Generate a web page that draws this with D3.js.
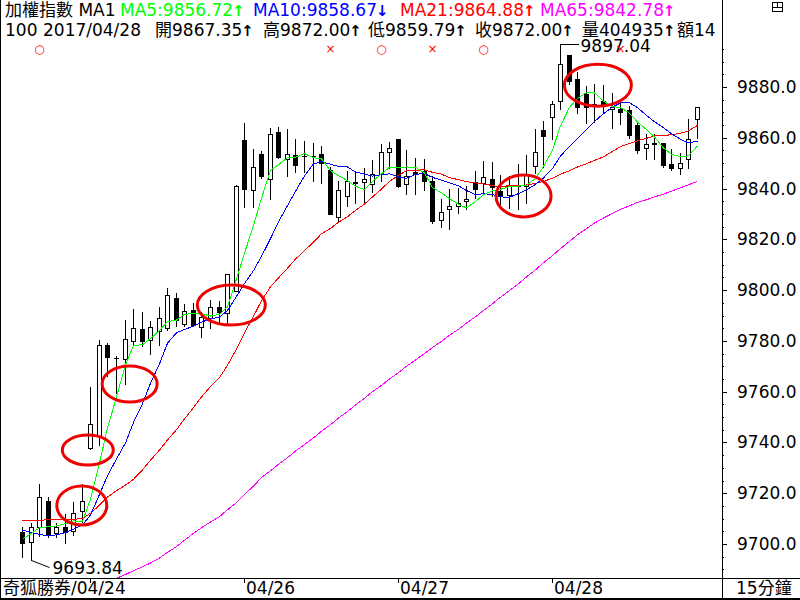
<!DOCTYPE html>
<html>
<head>
<meta charset="utf-8">
<script src="https://cdn.jsdelivr.net/npm/d3@7"></script>
<style>
  body { margin: 0; background: #fff; }
  svg { display: block; font-family: "DejaVu Sans", "Noto Sans CJK TC", sans-serif; }
</style>
</head>
<body>
<svg width="800" height="600"></svg>
<script>
// 15-minute bars, 04/24 (partial) .. 04/28
const opens = [9704.6, 9700.7, 9706.8, 9717.0, 9704.2, 9706.6, 9705.2, 9713.0, 9737.8, 9742.7,
  9778.5, 9773.0, 9772.9, 9780.1, 9784.7, 9780.5, 9783.7, 9785.1, 9796.9, 9786.8,
  9792.0, 9785.5, 9789.0, 9793.4, 9791.0, 9799.5, 9859.0, 9839.4, 9853.5, 9843.6,
  9862.4, 9851.8, 9853.1, 9852.8, 9852.8, 9853.5, 9847.5, 9828.7, 9837.0, 9842.7,
  9842.5, 9841.6, 9845.8, 9854.5, 9859.4, 9841.9, 9846.5, 9846.9, 9842.9, 9827.8,
  9832.0, 9833.3, 9835.0, 9842.5, 9842.2, 9843.6, 9839.0, 9837.4, 9841.2, 9841.2,
  9848.8, 9862.9, 9868.3, 9874.6, 9892.5, 9883.3, 9877.1, 9873.5, 9874.5, 9871.2,
  9871.2, 9870.9, 9864.9, 9856.1, 9858.1, 9857.8, 9849.5, 9848.2, 9851.8, 9867.35];
const highs = [9706.8, 9708.2, 9723.7, 9718.7, 9708.2, 9711.7, 9716.7, 9723.7, 9761.8, 9780.5,
  9779.2, 9773.9, 9788.4, 9792.6, 9791.2, 9788.0, 9793.4, 9800.9, 9798.9, 9794.7,
  9795.0, 9791.2, 9796.0, 9795.6, 9806.5, 9841.5, 9865.7, 9855.7, 9854.8, 9864.0,
  9864.4, 9863.3, 9859.5, 9858.7, 9858.1, 9856.7, 9848.3, 9842.9, 9847.1, 9846.9,
  9847.9, 9851.1, 9857.7, 9858.5, 9859.6, 9855.0, 9851.9, 9851.8, 9844.9, 9835.7,
  9840.0, 9840.3, 9841.0, 9846.9, 9850.8, 9850.4, 9845.2, 9844.9, 9849.5, 9853.1,
  9863.3, 9866.6, 9874.5, 9897.04, 9892.5, 9885.9, 9880.2, 9881.1, 9880.7, 9877.5,
  9875.4, 9872.5, 9866.0, 9861.6, 9861.3, 9857.8, 9855.4, 9854.1, 9867.3, 9872.00];
const lows = [9695.0, 9693.84, 9703.2, 9702.6, 9702.6, 9700.5, 9703.6, 9708.8, 9737.5, 9739.1,
  9766.0, 9759.4, 9763.1, 9777.8, 9778.1, 9775.0, 9778.5, 9784.4, 9785.7, 9785.7,
  9785.7, 9781.5, 9785.1, 9787.6, 9787.1, 9799.5, 9832.8, 9832.8, 9844.3, 9836.0,
  9852.1, 9844.9, 9846.5, 9846.5, 9842.9, 9842.3, 9829.8, 9827.2, 9833.1, 9834.4,
  9834.4, 9838.7, 9842.9, 9848.2, 9840.6, 9837.7, 9837.7, 9839.6, 9826.5, 9824.8,
  9823.9, 9830.5, 9832.0, 9836.4, 9837.7, 9837.0, 9833.1, 9832.2, 9831.8, 9834.4,
  9846.2, 9848.3, 9859.4, 9871.2, 9881.1, 9869.6, 9866.0, 9866.2, 9870.1, 9864.0,
  9865.3, 9860.0, 9854.1, 9851.8, 9851.8, 9848.4, 9847.5, 9845.8, 9848.2, 9859.79];
const closes = [9700.3, 9706.6, 9718.4, 9703.6, 9706.6, 9704.9, 9712.1, 9717.1, 9747.2, 9778.5,
  9773.6, 9773.4, 9780.7, 9785.1, 9780.1, 9785.5, 9789.0, 9798.2, 9788.1, 9791.6,
  9786.4, 9789.4, 9793.4, 9791.4, 9806.5, 9841.2, 9839.9, 9848.6, 9844.9, 9861.3,
  9852.5, 9853.5, 9849.1, 9852.8, 9852.8, 9850.2, 9830.0, 9839.6, 9842.9, 9842.0,
  9843.6, 9845.8, 9854.5, 9856.1, 9841.0, 9844.9, 9845.6, 9842.9, 9827.4, 9830.8,
  9833.3, 9834.4, 9836.0, 9839.9, 9844.6, 9840.7, 9837.3, 9841.3, 9841.2, 9845.8,
  9854.4, 9860.7, 9873.4, 9889.0, 9882.4, 9872.1, 9872.1, 9872.7, 9872.5, 9872.1,
  9870.3, 9860.9, 9855.1, 9857.7, 9857.4, 9849.1, 9848.2, 9850.2, 9859.4, 9872.00];

// moving averages
const ma5 = [9701.9, 9704.2, 9706.4, 9706.8, 9707.1, 9708.0, 9709.1, 9708.9, 9717.6, 9732.0,
  9745.7, 9757.9, 9770.6, 9778.2, 9778.5, 9780.9, 9784.1, 9787.6, 9788.2, 9790.5,
  9790.7, 9790.7, 9789.8, 9790.4, 9793.4, 9804.4, 9814.5, 9825.5, 9836.2, 9847.2,
  9849.4, 9852.2, 9852.3, 9853.8, 9852.1, 9851.7, 9847.0, 9845.1, 9843.1, 9840.9,
  9839.6, 9842.8, 9845.8, 9848.4, 9848.2, 9848.5, 9848.4, 9846.1, 9840.4, 9838.3,
  9836.0, 9833.8, 9832.4, 9834.9, 9837.6, 9839.1, 9839.7, 9840.8, 9841.0, 9841.3,
  9844.0, 9848.7, 9855.1, 9864.7, 9872.0, 9875.5, 9877.8, 9877.7, 9874.4, 9872.3,
  9871.9, 9869.7, 9866.2, 9863.2, 9860.3, 9856.0, 9853.5, 9852.5, 9852.9, 9856.72];
const ma10 = [9705.5, 9704.6, 9703.8, 9703.2, 9703.6, 9704.5, 9705.8, 9707.5, 9711.4, 9719.5,
  9726.9, 9733.5, 9739.8, 9747.9, 9755.3, 9763.3, 9771.0, 9779.1, 9783.2, 9784.5,
  9785.8, 9787.4, 9788.7, 9789.3, 9792.0, 9797.5, 9802.6, 9807.7, 9813.3, 9820.3,
  9826.9, 9833.3, 9838.9, 9845.0, 9849.7, 9850.6, 9849.6, 9848.7, 9848.5, 9846.5,
  9845.7, 9844.9, 9845.4, 9845.8, 9844.6, 9844.0, 9845.6, 9845.9, 9844.4, 9843.3,
  9842.2, 9841.1, 9839.2, 9837.6, 9838.0, 9837.6, 9836.7, 9836.6, 9838.0, 9839.5,
  9841.6, 9844.2, 9847.9, 9852.8, 9856.6, 9859.8, 9863.2, 9866.4, 9869.5, 9872.1,
  9873.7, 9873.8, 9871.9, 9868.8, 9866.3, 9864.0, 9861.6, 9859.4, 9858.0, 9858.67];
const ma21 = [9709.2, 9709.3, 9709.4, 9709.5, 9709.5, 9709.6, 9709.7, 9710.1, 9712.1, 9715.3,
  9718.5, 9721.0, 9723.2, 9725.5, 9729.2, 9733.0, 9737.0, 9741.0, 9745.0, 9749.3,
  9753.7, 9757.9, 9762.0, 9765.5, 9770.4, 9776.8, 9783.2, 9789.7, 9795.8, 9801.3,
  9804.8, 9808.6, 9812.2, 9815.6, 9818.9, 9822.2, 9824.3, 9826.7, 9828.9, 9831.4,
  9833.9, 9836.7, 9839.8, 9842.8, 9845.2, 9847.0, 9847.2, 9847.4, 9846.4, 9845.7,
  9844.3, 9843.5, 9842.7, 9842.2, 9841.8, 9841.2, 9840.6, 9841.2, 9841.2, 9841.4,
  9842.0, 9842.8, 9844.1, 9845.7, 9847.0, 9848.5, 9849.8, 9851.1, 9852.5, 9854.6,
  9856.5, 9857.8, 9858.8, 9859.8, 9860.7, 9860.9, 9861.2, 9861.8, 9862.7, 9864.88];
const ma65 = [null, null, null, null, null, null, null, null, null, null,
  9684.2, 9686.5, 9688.0, 9689.5, 9691.0, 9692.5, 9694.5, 9696.7, 9699.0, 9701.5,
  9704.2, 9706.4, 9708.7, 9710.8, 9713.5, 9716.3, 9719.5, 9722.8, 9726.2, 9728.8,
  9731.4, 9734.0, 9736.6, 9739.2, 9741.8, 9744.4, 9747.0, 9749.6, 9752.2, 9754.8,
  9757.4, 9760.0, 9762.5, 9765.0, 9767.5, 9770.0, 9772.5, 9775.0, 9777.4, 9779.8,
  9782.2, 9784.6, 9787.0, 9789.5, 9792.0, 9794.6, 9797.2, 9799.8, 9802.5, 9805.2,
  9808.0, 9810.8, 9813.6, 9816.4, 9819.2, 9821.8, 9824.2, 9826.4, 9828.4, 9830.2,
  9831.8, 9833.2, 9834.5, 9835.6, 9836.7, 9837.8, 9839.0, 9840.3, 9841.5, 9842.78];

const yTickValues = [9700, 9720, 9740, 9760, 9780, 9800, 9820, 9840, 9860, 9880];
const dayStarts = [8, 26, 44, 62];
const dayLabels = ['', '04/26', '04/27', '04/28'];
const signalBars = [2, 36, 42, 48, 54, 70];
const signalMarks = ['○', '×', '○', '×', '○', '×'];
// hand-drawn red rings: bar index, value, radii
const rings = [
  { bar: 7.0, value: 9715.2, rx: 25, ry: 19.5 },
  { bar: 7.7, value: 9737.0, rx: 25.5, ry: 15 },
  { bar: 12.6, value: 9763.0, rx: 27.5, ry: 18 },
  { bar: 24.5, value: 9794.1, rx: 34, ry: 20 },
  { bar: 58.7, value: 9837.1, rx: 27.5, ry: 21 },
  { bar: 67.4, value: 9880.7, rx: 33.5, ry: 21 }
];
const volume = 404935;
const amount = 14;

const svg = d3.select('svg');
const W = 800, H = 600;
const plotRight = 722, plotBottom = 578, plotTop = 38;

const x = d3.scaleLinear().domain([0, closes.length - 1]).range([22, 697]);
const y = d3.scaleLinear().domain([9700, 9880]).range([544, 87]);
const px = i => Math.round(x(i));
const py = v => Math.round(y(v));

svg.append('rect').attr('width', W).attr('height', H).attr('fill', '#fff');

svg.append('defs').append('clipPath').attr('id', 'plot')
  .append('rect').attr('x', 1).attr('y', plotTop).attr('width', plotRight - 1).attr('height', plotBottom - plotTop);

const plot = svg.append('g').attr('clip-path', 'url(#plot)');

// candles
const bars = d3.range(closes.length);
const candle = plot.append('g').attr('shape-rendering', 'crispEdges')
  .selectAll('g').data(bars).enter().append('g');

candle.append('line')
  .attr('x1', i => px(i) + 0.5).attr('x2', i => px(i) + 0.5)
  .attr('y1', i => py(highs[i])).attr('y2', i => py(lows[i]) + 1)
  .attr('stroke', '#000');

candle.filter(i => Math.abs(opens[i] - closes[i]) >= 0.5)
  .append('rect')
  .attr('x', i => px(i) - 2 + 0.5)
  .attr('width', 4)
  .attr('y', i => py(Math.max(opens[i], closes[i])) + 0.5)
  .attr('height', i => Math.max(1, py(Math.min(opens[i], closes[i])) - py(Math.max(opens[i], closes[i]))))
  .attr('fill', i => closes[i] >= opens[i] ? '#fff' : '#000')
  .attr('stroke', '#000');

candle.filter(i => Math.abs(opens[i] - closes[i]) < 0.5)
  .append('line')
  .attr('x1', i => px(i) - 2).attr('x2', i => px(i) + 3)
  .attr('y1', i => py(closes[i]) + 0.5).attr('y2', i => py(closes[i]) + 0.5)
  .attr('stroke', '#000');

// moving averages
const maLine = d3.line()
  .defined(d => d != null)
  .x((d, i) => px(i) + 0.5)
  .y(d => y(d));

const maSeries = [
  { data: ma65, color: '#ff00ff' },
  { data: ma21, color: '#ff0000' },
  { data: ma10, color: '#0000ff' },
  { data: ma5, color: '#00ff00' }
];
plot.append('g').selectAll('path').data(maSeries).enter().append('path')
  .attr('d', s => maLine(s.data))
  .attr('fill', 'none')
  .attr('stroke', s => s.color)
  .attr('stroke-width', 1)
  .attr('shape-rendering', 'crispEdges');

// high / low labels
const hiIdx = d3.maxIndex(highs), loIdx = d3.minIndex(lows);
const hx = px(hiIdx) + 0.5, hy = py(highs[hiIdx]) + 0.5;
svg.append('path')
  .attr('d', `M${hx},${hy}H${hx + 18}`)
  .attr('stroke', '#000').attr('fill', 'none').attr('shape-rendering', 'crispEdges');
svg.append('text').attr('x', hx + 20).attr('y', hy + 7)
  .attr('font-size', 17).attr('fill', '#000').text(highs[hiIdx].toFixed(2));

const lx = px(loIdx) + 0.5, ly = py(lows[loIdx]) + 0.5;
svg.append('path')
  .attr('d', `M${lx},${ly}L${lx + 18},${ly + 7}`)
  .attr('stroke', '#000').attr('fill', 'none');
svg.append('text').attr('x', lx + 21).attr('y', ly + 13)
  .attr('font-size', 17).attr('fill', '#000').text(lows[loIdx].toFixed(2));

// signal marks
svg.append('g').selectAll('text').data(signalBars).enter().append('text')
  .attr('x', d => px(d) + 0.5).attr('y', 53)
  .attr('text-anchor', 'middle')
  .attr('font-size', 12)
  .attr('fill', '#ff0000')
  .text((d, i) => signalMarks[i]);

// red rings
svg.append('g').selectAll('ellipse').data(rings).enter().append('ellipse')
  .attr('cx', d => x(d.bar)).attr('cy', d => y(d.value))
  .attr('rx', d => d.rx).attr('ry', d => d.ry)
  .attr('fill', 'none').attr('stroke', '#ee0000').attr('stroke-width', 3);

// frame
const frame = svg.append('g').attr('stroke', '#000').attr('shape-rendering', 'crispEdges');
frame.append('line').attr('x1', 0.5).attr('x2', 0.5).attr('y1', 0).attr('y2', H);
frame.append('line').attr('x1', plotRight + 0.5).attr('x2', plotRight + 0.5).attr('y1', 0).attr('y2', H);
frame.append('line').attr('x1', 0).attr('x2', W).attr('y1', plotBottom + 0.5).attr('y2', plotBottom + 0.5);
frame.append('line').attr('x1', 0).attr('x2', W).attr('y1', 598.5).attr('y2', 598.5).attr('stroke-width', 2);

// right axis
const axis = svg.append('g');
axis.selectAll('line.major').data(yTickValues).enter().append('line')
  .attr('x1', plotRight).attr('x2', plotRight + 5)
  .attr('y1', d => py(d) + 0.5).attr('y2', d => py(d) + 0.5)
  .attr('stroke', '#000').attr('shape-rendering', 'crispEdges');
axis.selectAll('rect.minor')
  .data(d3.range(9690, 9900, 5).filter(v => v % 20 !== 0 && y(v) > plotTop && y(v) < plotBottom))
  .enter().append('rect')
  .attr('x', plotRight + 1).attr('y', d => py(d)).attr('width', 1).attr('height', 1).attr('fill', '#000');
axis.selectAll('text').data(yTickValues).enter().append('text')
  .attr('x', 737).attr('y', d => py(d) + 6)
  .attr('font-size', 17).attr('fill', '#000')
  .text(d => d3.format('.1f')(d));

// bottom axis
svg.selectAll('line.day').data(dayStarts).enter().append('line')
  .attr('x1', d => px(d) + 0.5).attr('x2', d => px(d) + 0.5)
  .attr('y1', plotBottom).attr('y2', plotBottom + 5)
  .attr('stroke', '#000').attr('shape-rendering', 'crispEdges');
svg.selectAll('text.day').data(dayStarts).enter().append('text')
  .attr('x', d => px(d) + 2).attr('y', 594)
  .attr('font-size', 17).attr('fill', '#000')
  .text((d, i) => dayLabels[i]);
svg.append('text').attr('x', 3).attr('y', 594).attr('font-size', 17).text('奇狐勝券/04/24');
svg.append('text').attr('x', 736).attr('y', 594).attr('font-size', 17).text('15分鐘');

// header
svg.append('defs').append('clipPath').attr('id', 'head')
  .append('rect').attr('x', 0).attr('y', 0).attr('width', plotRight).attr('height', 40);
const head = svg.append('g').attr('clip-path', 'url(#head)').attr('font-size', 17);
const last = closes.length - 1;

// text plus a heavy arrow glyph, squeezed a little
function segment(sel, d) {
  const t = sel.append('text').attr('x', d.x).attr('y', d.y).attr('fill', d.c || '#000');
  t.append('tspan').text(d.t);
  if (d.a) {
    t.append('tspan')
      .attr('font-weight', 'bold')
      .attr('font-size', 15)
      .attr('dx', -1)
      .text(d.a);
  }
}

const line1 = [
  { t: '加權指數 MA1', x: 5, c: '#000' },
  { t: `MA5:${ma5[last].toFixed(2)}`, a: '↑', x: 120, c: '#00ff00' },
  { t: `MA10:${ma10[last].toFixed(2)}`, a: '↓', x: 253, c: '#0000ff' },
  { t: `MA21:${ma21[last].toFixed(2)}`, a: '↑', x: 400, c: '#ff0000' },
  { t: `MA65:${ma65[last].toFixed(2)}`, a: '↑', x: 540, c: '#ff00ff' }
];
line1.forEach(d => segment(head, { ...d, y: 16 }));

const line2 = [
  { t: '100', x: 5 },
  { t: '2017/04/28', x: 43 },
  { t: `開${opens[last].toFixed(2)}`, a: '↑', x: 155 },
  { t: `高${highs[last].toFixed(2)}`, a: '↑', x: 263 },
  { t: `低${lows[last].toFixed(2)}`, a: '↑', x: 368 },
  { t: `收${closes[last].toFixed(2)}`, a: '↑', x: 475 },
  { t: `量${volume}`, a: '↑', x: 582 },
  { t: `額${amount}`, x: 677 }
];
line2.forEach(d => segment(head, { ...d, y: 36 }));

// window icon, top right
const icon = svg.append('g').attr('stroke', '#000').attr('fill', 'none').attr('shape-rendering', 'crispEdges');
icon.append('rect').attr('x', 772.5).attr('y', 2.5).attr('width', 10).attr('height', 9);
icon.append('line').attr('x1', 772).attr('x2', 783).attr('y1', 7.5).attr('y2', 7.5);
icon.append('line').attr('x1', 777.5).attr('x2', 777.5).attr('y1', 2).attr('y2', 7);
</script>
</body>
</html>
